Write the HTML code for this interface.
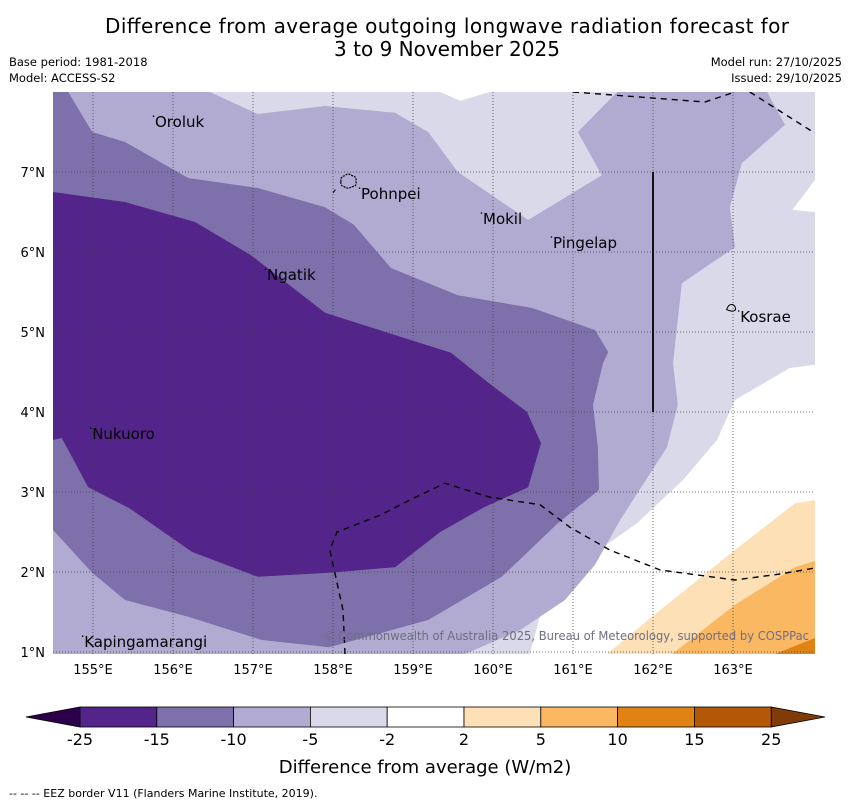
<!DOCTYPE html>
<html><head><meta charset="utf-8">
<style>
body{margin:0;background:#fff;font-family:"DejaVu Sans","Liberation Sans",sans-serif;}
svg text{font-family:"DejaVu Sans","Liberation Sans",sans-serif;}
</style></head>
<body>
<svg id="chart" width="850" height="804" viewBox="0 0 850 804" xmlns="http://www.w3.org/2000/svg">
<text x="447" y="33" font-size="20" text-anchor="middle" textLength="684">Difference from average outgoing longwave radiation forecast for</text>
<text x="447" y="56" font-size="20" text-anchor="middle">3 to 9 November 2025</text>
<text x="9" y="66" font-size="11.5">Base period: 1981-2018</text>
<text x="9" y="82" font-size="11.5">Model: ACCESS-S2</text>
<text x="842" y="66" font-size="11.5" text-anchor="end">Model run: 27/10/2025</text>
<text x="842" y="82" font-size="11.5" text-anchor="end">Issued: 29/10/2025</text>
<defs><clipPath id="mapclip"><rect x="53" y="92" width="762" height="562"/></clipPath></defs>
<g id="map" clip-path="url(#mapclip)"></g>
<g id="axes"></g>
<g id="cbar"></g>
<text x="425" y="773" font-size="18" text-anchor="middle">Difference from average (W/m2)</text>
<text x="9" y="797" font-size="11">--  --  -- EEZ border V11 (Flanders Marine Institute, 2019).</text>
</svg>
<script>
const lonMin = 154.5, latMax = 8;
const lonTicks = [155,156,157,158,159,160,161,162,163];
const latTicks = [1,2,3,4,5,6,7];
const levelColors = ["#d9d9ea","#b1aad1","#7e70aa","#53258a","#fde0b6","#fbb863","#e08214"];
const contourLight = [[154.5,8],[164.025,8],[164.025,0.975],[154.5,0.975]];
const contourMinus5 = [[154.5,0.975],[154.5,8],[156.46,8],[157.06,7.725],[157.9,7.825],[158.775,7.74],[159.19,7.5],[159.56,7.0],[160.44,6.4],[161.36,6.96],[161.06,7.5],[161.55,8],[163.425,8],[163.65,7.59],[163.11,7.11],[162.96,6.56],[163.025,6.06],[162.36,5.61],[162.25,4.61],[162.31,4.09],[162.175,3.56],[161.75,2.9],[161.59,2.65],[161.275,2.09],[160.9,1.65],[160.34,1.275],[159.65,0.975]];
const contourMinus10 = [[154.5,8],[154.69,8],[154.99,7.5],[155.4,7.375],[156.19,6.925],[157.06,6.8],[157.9,6.56],[158.26,6.34],[158.725,5.8],[159.56,5.46],[160.49,5.3],[161.275,5.025],[161.44,4.75],[161.375,4.61],[161.25,4.09],[161.31,3.56],[161.325,3.025],[160.81,2.61],[160.11,1.94],[159.19,1.4],[157.95,1.06],[157.11,1.15],[156.19,1.44],[155.4,1.65],[154.99,1.99],[154.5,2.525]];
const contourMinus15 = [[154.5,6.75],[155.4,6.625],[156.275,6.375],[156.975,5.96],[157.9,5.24],[159.475,4.74],[159.975,4.34],[160.425,4.0],[160.6,3.61],[160.44,3.06],[159.89,2.81],[159.34,2.5],[158.775,2.06],[157.95,1.99],[157.06,1.94],[156.24,2.25],[155.45,2.8],[154.94,3.06],[154.61,3.675],[154.5,3.65]];
const whiteLowerRight = [[164.025,4.59],[163.71,4.55],[163.025,4.15],[162.8,3.65],[162.375,3.15],[161.8,2.61],[161.375,2.31],[160.71,1.9],[160.46,0.975],[164.025,0.975]];
const whiteTopNotch = [[159.34,8],[159.59,7.89],[159.96,8]];
const whiteRightNotch = [[164.025,6.9],[163.74,6.525],[164.025,6.5]];
const contourPlus2 = [[161.425,0.975],[162.09,1.525],[163.025,2.275],[163.775,2.86],[164.025,2.9],[164.025,0.975]];
const contourPlus5 = [[162.24,0.975],[163.025,1.59],[163.775,2.06],[164.025,2.14],[164.025,0.975]];
const contourPlus10 = [[163.525,0.975],[164.025,1.175],[164.025,0.975]];
const eezNorthA = [[161.0,8],[162.65,7.875],[163.025,8]];
const eezNorthB = [[163.21,8],[164.0,7.5],[164.2,7.4]];
const eezSouth = [[158.15,0.975],[158.125,1.525],[157.96,2.275],[158.05,2.5],[158.59,2.71],[158.96,2.9],[159.4,3.11],[159.94,2.94],[160.59,2.84],[160.96,2.56],[161.46,2.275],[162.09,2.025],[163.025,1.9],[163.59,1.975],[164.025,2.05]];
const placeNames = ["Oroluk","Pohnpei","Mokil","Pingelap","Ngatik","Kosrae","Nukuoro","Kapingamarangi"];
const placeLons = [155.775,158.35,159.875,160.75,157.175,163.09,154.99,154.89];
const placeLats = [7.56,6.66,6.35,6.05,5.65,5.125,3.66,1.06];
const cbarBounds = [-25,-15,-10,-5,-2,2,5,10,15,25];
const cbarColors = ["#53258a","#7e70aa","#b1aad1","#d9d9ea","#ffffff","#fde0b6","#fbb863","#e08214","#b35806"];

const NS="http://www.w3.org/2000/svg";
const X = lon => 53 + (lon - lonMin) * 80;
const Y = lat => 92 + (latMax - lat) * 80;
function mk(tag, attrs, parent){const e=document.createElementNS(NS,tag);for(const k in attrs)e.setAttribute(k,attrs[k]);parent.appendChild(e);return e;}
const pts = arr => arr.map(p => X(p[0]).toFixed(1)+","+Y(p[1]).toFixed(1)).join(" ");
const map = document.getElementById("map");
mk("rect",{x:53,y:92,width:762,height:562,fill:"#fff"},map);
function poly(arr, fill, name){
  const e = mk("polygon",{points:pts(arr),fill:fill},map);
  
  
}
poly(contourLight, levelColors[0], "contour-minus2");
poly(whiteLowerRight, "#ffffff", "contour-neutral-southeast");
poly(whiteTopNotch, "#ffffff", "contour-neutral-north");
poly(whiteRightNotch, "#ffffff", "contour-neutral-east");
poly(contourMinus5, levelColors[1], "contour-minus5");
poly(contourMinus10, levelColors[2], "contour-minus10");
poly(contourMinus15, levelColors[3], "contour-minus15");
poly(contourPlus2, levelColors[4], "contour-plus2");
poly(contourPlus5, levelColors[5], "contour-plus5");
poly(contourPlus10, levelColors[6], "contour-plus10");
lonTicks.forEach(l=>{const g=mk("line",{x1:X(l),x2:X(l),y1:92,y2:654,stroke:"#444","stroke-width":0.8,"stroke-dasharray":"1,2"},map);

});
latTicks.forEach(l=>{const g=mk("line",{x1:53,x2:815,y1:Y(l),y2:Y(l),stroke:"#444","stroke-width":0.8,"stroke-dasharray":"1,2"},map);

});
[eezNorthA,eezNorthB,eezSouth].forEach(a=>{const e=mk("polyline",{points:pts(a),fill:"none",stroke:"#000","stroke-width":1.4,"stroke-dasharray":"6,5"},map);

});
const vl=mk("line",{x1:X(162),x2:X(162),y1:Y(7),y2:Y(4),stroke:"#111","stroke-width":2},map);


const isl1=mk("path",{d:`M${X(158.1)},${Y(6.88)} q-1,-5 4,-6 q3,-3 7,0 q5,1 4,6 q1,5 -4,5 q-4,3 -8,0 q-4,-1 -3,-5z`,fill:"none",stroke:"#000","stroke-width":1.2,"stroke-dasharray":"2,1"},map);


const isl0=mk("line",{x1:X(158.0),y1:Y(6.74),x2:X(158.03),y2:Y(6.78),stroke:"#000","stroke-width":1},map);


const isl2=mk("path",{d:`M${X(162.92)},${Y(5.28)} q2,-6 6,-5 q3,1 3,5 q-3,3 -9,0z`,fill:"none",stroke:"#000","stroke-width":1},map);


placeNames.forEach((n,i)=>{
  const d=mk("circle",{cx:X(placeLons[i])-1.5,cy:Y(placeLats[i])-11,r:0.8,fill:"#000"},map);
  
  
  const t=mk("text",{x:X(placeLons[i]),y:Y(placeLats[i]),"font-size":15,fill:"#000"},map);
  t.textContent=n;
  
  
});
const cp=mk("text",{x:323,y:640,"font-size":12,fill:"#6e6e80",textLength:486,lengthAdjust:"spacingAndGlyphs"},map);
cp.textContent="© Commonwealth of Australia 2025, Bureau of Meteorology, supported by COSPPac";


const axes=document.getElementById("axes");
lonTicks.forEach(l=>{const t=mk("text",{x:X(l),y:674,"font-size":13,"text-anchor":"middle"},axes);t.textContent=l+"°E";

});
latTicks.forEach(l=>{const t=mk("text",{x:45,y:Y(l)+5,"font-size":13,"text-anchor":"end"},axes);t.textContent=l+"°N";

});
const cb=document.getElementById("cbar");
const cbX = i => 80 + i*76.8;
const y0=707,h=20;
const lt=mk("polygon",{points:`26,${y0+h/2} ${cbX(0)},${y0} ${cbX(0)},${y0+h}`,fill:"#2d004b",stroke:"#000","stroke-width":0.8},cb);


const rt=mk("polygon",{points:`825,${y0+h/2} ${cbX(9)},${y0} ${cbX(9)},${y0+h}`,fill:"#7f3b08",stroke:"#000","stroke-width":0.8},cb);


cbarColors.forEach((c,i)=>{const r=mk("rect",{x:cbX(i),y:y0,width:76.8,height:h,fill:c,stroke:"#000","stroke-width":0.8},cb);

});
cbarBounds.forEach((b,i)=>{const t=mk("text",{x:cbX(i),y:745,"font-size":16,"text-anchor":"middle"},cb);t.textContent=b;

});
</script>
</body></html>
